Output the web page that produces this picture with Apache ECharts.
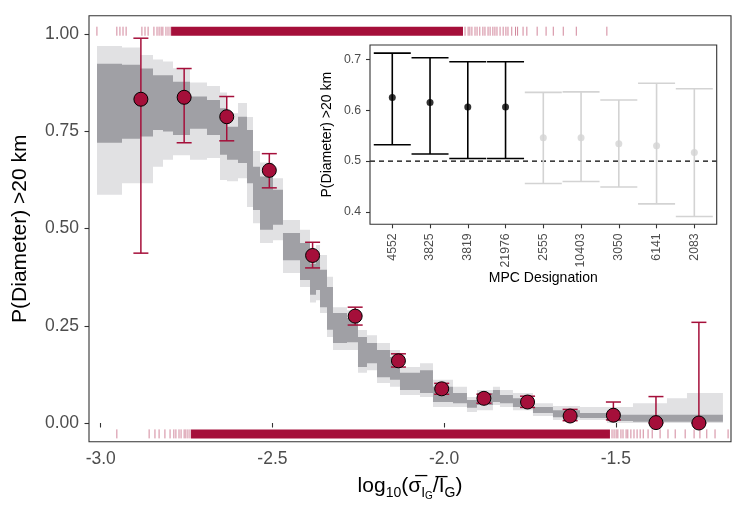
<!DOCTYPE html>
<html><head><meta charset="utf-8">
<script src="https://cdn.jsdelivr.net/npm/echarts@6/dist/echarts.min.js"></script>
<style>html,body{margin:0;padding:0;background:#fff}#c{width:747px;height:516px}</style>
</head><body><div id="c"></div>
<script>
// ---------- main panel data ----------
const xTicks = [-3.0, -2.5, -2.0, -1.5];
const yTicks = [0, 0.25, 0.5, 0.75, 1.0];

// stepped ribbons (value holds from bandX[i] to bandX[i+1])
const bandX   = [-3.0108,-2.9380,-2.8856,-2.8477,-2.8186,-2.7895,-2.7400,-2.6905,-2.6526,-2.6322,-2.6002,-2.5740,-2.5565,-2.5361,-2.4983,-2.4692,-2.4196,-2.3905,-2.3730,-2.3614,-2.3410,-2.3236,-2.2828,-2.2508,-2.2246,-2.1954,-2.1576,-2.1285,-2.0702,-2.0324,-1.9741,-1.9334,-1.9043,-1.8577,-1.8373,-1.7995,-1.7412,-1.6830,-1.6044,-1.5257,-1.4500,-1.3510,-1.2928,-1.1880];
const outerLo = [0.587,0.617,0.617,0.659,0.677,0.689,0.677,0.682,0.625,0.622,0.630,0.556,0.514,0.463,0.470,0.386,0.350,0.310,0.316,0.283,0.221,0.188,0.188,0.129,0.136,0.103,0.093,0.072,0.067,0.041,0.041,0.028,0.033,0.046,0.041,0.033,0.018,0.008,0.008,0.000,0.000,0.000,0.000,0.000];
const innerLo = [0.721,0.731,0.737,0.754,0.750,0.741,0.757,0.741,0.690,0.677,0.669,0.617,0.548,0.497,0.510,0.419,0.368,0.330,0.342,0.298,0.240,0.206,0.208,0.144,0.154,0.118,0.111,0.085,0.077,0.054,0.051,0.039,0.046,0.054,0.051,0.041,0.026,0.015,0.013,0.005,0.003,0.003,0.003,0.003];
const innerHi = [0.924,0.922,0.912,0.895,0.895,0.878,0.840,0.831,0.810,0.762,0.788,0.754,0.659,0.634,0.600,0.489,0.463,0.410,0.427,0.394,0.350,0.283,0.270,0.221,0.206,0.188,0.170,0.129,0.136,0.093,0.077,0.059,0.077,0.085,0.072,0.064,0.041,0.033,0.026,0.021,0.021,0.021,0.021,0.021];
const outerHi = [0.970,0.966,0.947,0.935,0.930,0.913,0.876,0.867,0.850,0.797,0.823,0.787,0.700,0.670,0.630,0.522,0.497,0.445,0.458,0.432,0.376,0.298,0.290,0.239,0.226,0.206,0.188,0.144,0.154,0.111,0.093,0.067,0.085,0.093,0.085,0.077,0.051,0.044,0.041,0.041,0.051,0.064,0.077,0.077];

// binned proportions with intervals
const binX  = [-2.883,-2.757,-2.633,-2.509,-2.383,-2.259,-2.133,-2.007,-1.884,-1.757,-1.633,-1.507,-1.383,-1.258];
const binP  = [0.833,0.838,0.788,0.650,0.431,0.275,0.160,0.088,0.0635,0.054,0.018,0.020,0.001,0.000];
const binLo = [0.437,0.721,0.726,0.605,0.399,0.252,0.144,0.074,0.051,0.040,0.006,0.008,0.000,0.000];
const binHi = [0.990,0.912,0.840,0.693,0.465,0.298,0.178,0.102,0.074,0.069,0.035,0.054,0.068,0.259];

// rug of individual observations (top: >20 km, bottom: <=20 km)
const rugTopLevel = 1.008;
const rugBottomLevel = -0.028;
const rugTopX = [-3.011,-2.953,-2.944,-2.935,-2.926,-2.880,-2.871,-2.862,-2.845,-2.836,-2.830,-2.824,-2.819,-2.810,-2.804,-2.798,
  -1.939,-1.930,-1.925,-1.919,-1.910,-1.904,-1.896,-1.887,-1.881,-1.872,-1.866,-1.858,-1.852,-1.846,-1.837,-1.828,-1.820,-1.814,-1.803,-1.792,-1.786,
  -1.770,-1.759,-1.729,-1.703,-1.682,-1.653,-1.615,-1.526];
const rugTopDense = [[-2.795,-1.945]];
const rugBotX = [-2.953,-2.859,-2.842,-2.830,-2.813,-2.798,-2.787,-2.781,-2.772,-2.766,-2.757,-2.752,-2.746,-2.740,
  -1.511,-1.505,-1.499,-1.494,-1.485,-1.479,-1.470,-1.465,-1.456,-1.447,-1.438,-1.429,
  -1.420,-1.406,-1.394,-1.371,-1.348,-1.327,-1.298,-1.272,-1.255,-1.235,-1.211,-1.173];
const rugBotDense = [[-2.737,-1.517]];

// ---------- inset data ----------
const inCats = ['4552','3825','3819','21976','2555','10403','3050','6141','2083'];
const inP  = [0.625,0.615,0.606,0.606,0.546,0.546,0.534,0.530,0.517];
const inLo = [0.532,0.514,0.505,0.505,0.456,0.460,0.449,0.416,0.391];
const inHi = [0.712,0.703,0.695,0.695,0.635,0.636,0.620,0.653,0.642];
const inRef = 0.5;
const inYTicks = [0.4, 0.5, 0.6, 0.7];

// ---------- styling ----------
const FONT = "'Liberation Sans', Arial, sans-serif";
const CRIMSON = '#A50F3A';
const LIGHT = '#E1E1E3';
const DARK = '#A0A0A5';
const TXT = '#4D4D4D';

function bandRender(lo, hi, fill) {
  return function (params, api) {
    const n = bandX.length;
    const pts = [];
    for (let i = 0; i < n - 1; i++) {
      pts.push(api.coord([bandX[i], hi[i]]));
      pts.push(api.coord([bandX[i + 1], hi[i]]));
    }
    for (let i = n - 2; i >= 0; i--) {
      pts.push(api.coord([bandX[i + 1], lo[i]]));
      pts.push(api.coord([bandX[i], lo[i]]));
    }
    return { type: 'polygon', shape: { points: pts }, style: { fill: fill, stroke: null } };
  };
}

function rugTicks(params, api) {
  const p = api.coord([api.value(0), api.value(1)]);
  return { type: 'line', shape: { x1: p[0], y1: p[1] - 4.5, x2: p[0], y2: p[1] + 4.5 },
    style: { stroke: 'rgba(165,15,58,0.5)', lineWidth: 1 } };
}
function rugSpan(params, api) {
  const a = api.coord([api.value(0), api.value(2)]);
  const b = api.coord([api.value(1), api.value(2)]);
  return { type: 'rect', shape: { x: a[0], y: a[1] - 4.5, width: b[0] - a[0], height: 9 },
    style: { fill: CRIMSON } };
}
function errBar(color, half, lw) {
  return function (params, api) {
    const x = api.value(0);
    const lo = api.coord([x, api.value(1)]);
    const hi = api.coord([x, api.value(2)]);
    return { type: 'group', children: [
      { type: 'line', shape: { x1: lo[0], y1: lo[1], x2: hi[0], y2: hi[1] }, style: { stroke: color, lineWidth: lw } },
      { type: 'line', shape: { x1: lo[0] - half, y1: lo[1], x2: lo[0] + half, y2: lo[1] }, style: { stroke: color, lineWidth: lw } },
      { type: 'line', shape: { x1: hi[0] - half, y1: hi[1], x2: hi[0] + half, y2: hi[1] }, style: { stroke: color, lineWidth: lw } }
    ]};
  };
}
function inErr(params, api) {
  const i = api.value(0);
  const loV = api.value(1);
  const color = loV > inRef ? '#000000' : '#D3D3D3';
  const lo = api.coord([i, loV]);
  const hi = api.coord([i, api.value(2)]);
  const half = api.size([1, 0])[0] * 0.49;
  return { type: 'group', children: [
    { type: 'line', shape: { x1: lo[0], y1: lo[1], x2: hi[0], y2: hi[1] }, style: { stroke: color, lineWidth: 1.6 } },
    { type: 'line', shape: { x1: lo[0] - half, y1: lo[1], x2: lo[0] + half, y2: lo[1] }, style: { stroke: color, lineWidth: 1.6 } },
    { type: 'line', shape: { x1: hi[0] - half, y1: hi[1], x2: hi[0] + half, y2: hi[1] }, style: { stroke: color, lineWidth: 1.6 } }
  ]};
}
function inRefLine(params, api) {
  const cs = params.coordSys;
  const y = api.coord([0, inRef])[1];
  return { type: 'line', shape: { x1: cs.x - 3.4, y1: y, x2: cs.x + cs.width + 3.5, y2: y },
    style: { stroke: '#000', lineWidth: 1.3, lineDash: [5, 4] } };
}

const chart = echarts.init(document.getElementById('c'), null, { renderer: 'canvas', width: 747, height: 516 });

const option = {
  animation: false,
  textStyle: { fontFamily: FONT },
  grid: [
    { left: 89, top: 15.7, width: 642, height: 426, show: true, borderColor: '#333', borderWidth: 1.1, backgroundColor: '#fff', containLabel: false },
    { left: 373.4, top: 45, width: 339.8, height: 179.3, show: false, containLabel: false }
  ],
  graphic: [
    { type: 'rect', shape: { x: 370, y: 45, width: 346.7, height: 179.3 }, style: { fill: 'none', stroke: '#333', lineWidth: 1.1 }, z: 10 }
  ],
  xAxis: [
    { type: 'value', gridIndex: 0, min: -3.0341, max: -1.1645,
      axisLine: { show: false }, splitLine: { show: false },
      axisTick: { show: true, length: 4.5, lineStyle: { color: '#333', width: 1.1 }, customValues: xTicks },
      axisLabel: { customValues: xTicks, formatter: v => v.toFixed(1), color: TXT, fontSize: 17.5, margin: 8, fontFamily: FONT },
      name: '{n|log}{s|10}{n|(σ\u0305}{s|I}{ss|G}{n|/I\u0305}{s|G}{n|)}',
      nameLocation: 'middle', nameGap: 30,
      nameTextStyle: { rich: {
        n: { fontSize: 21, color: '#000', fontFamily: FONT },
        s: { fontSize: 14, color: '#000', fontFamily: FONT, padding: [12, 0, 0, 0] },
        ss: { fontSize: 10, color: '#000', fontFamily: FONT, padding: [20, 0, 0, 0] }
      } }
    },
    { type: 'category', gridIndex: 1, data: inCats, boundaryGap: true,
      axisLine: { show: false },
      axisTick: { show: true, alignWithLabel: true, length: 4, lineStyle: { color: '#333', width: 1.1 } },
      axisLabel: { rotate: 90, color: TXT, fontSize: 12.3, margin: 9, fontFamily: FONT },
      name: 'MPC Designation', nameLocation: 'middle', nameGap: 46,
      nameTextStyle: { fontSize: 14, color: '#000', fontFamily: FONT }
    }
  ],
  yAxis: [
    { type: 'value', gridIndex: 0, min: -0.0481, max: 1.0479,
      axisLine: { show: false }, splitLine: { show: false },
      axisTick: { show: true, length: 4.5, lineStyle: { color: '#333', width: 1.1 }, customValues: yTicks },
      axisLabel: { customValues: yTicks, formatter: v => v.toFixed(2), color: TXT, fontSize: 17.5, margin: 10, fontFamily: FONT },
      name: 'P(Diameter) >20 km', nameLocation: 'middle', nameGap: 58,
      nameTextStyle: { fontSize: 21, color: '#000', fontFamily: FONT }
    },
    { type: 'value', gridIndex: 1, min: 0.3758, max: 0.728, offset: 3.4,
      axisLine: { show: false }, splitLine: { show: false },
      axisTick: { show: true, length: 4, lineStyle: { color: '#333', width: 1.1 }, customValues: inYTicks },
      axisLabel: { customValues: inYTicks, formatter: v => v.toFixed(1), color: TXT, fontSize: 12.3, margin: 9, fontFamily: FONT },
      name: 'P(Diameter) >20 km', nameLocation: 'middle', nameGap: 36,
      nameTextStyle: { fontSize: 14, color: '#000', fontFamily: FONT }
    }
  ],
  series: [
    { type: 'custom', xAxisIndex: 0, yAxisIndex: 0, data: [[bandX[0], outerLo[0]]], renderItem: bandRender(outerLo, outerHi, LIGHT), z: 1, silent: true },
    { type: 'custom', xAxisIndex: 0, yAxisIndex: 0, data: [[bandX[0], innerLo[0]]], renderItem: bandRender(innerLo, innerHi, DARK), z: 2, silent: true },
    { type: 'custom', xAxisIndex: 0, yAxisIndex: 0, data: rugTopDense.map(d => [d[0], d[1], rugTopLevel]), encode: { x: [0, 1], y: 2 }, renderItem: rugSpan, z: 3, silent: true },
    { type: 'custom', xAxisIndex: 0, yAxisIndex: 0, data: rugBotDense.map(d => [d[0], d[1], rugBottomLevel]), encode: { x: [0, 1], y: 2 }, renderItem: rugSpan, z: 3, silent: true },
    { type: 'custom', xAxisIndex: 0, yAxisIndex: 0, data: rugTopX.map(x => [x, rugTopLevel]), renderItem: rugTicks, z: 3, silent: true },
    { type: 'custom', xAxisIndex: 0, yAxisIndex: 0, data: rugBotX.map(x => [x, rugBottomLevel]), renderItem: rugTicks, z: 3, silent: true },
    { type: 'custom', xAxisIndex: 0, yAxisIndex: 0, data: binX.map((x, i) => [x, binLo[i], binHi[i]]), encode: { x: 0, y: [1, 2] }, renderItem: errBar(CRIMSON, 7.5, 1.5), z: 4, silent: true },
    { type: 'scatter', xAxisIndex: 0, yAxisIndex: 0, data: binX.map((x, i) => [x, binP[i]]), symbol: 'circle', symbolSize: 14,
      itemStyle: { color: CRIMSON, borderColor: '#000', borderWidth: 1, opacity: 1 }, z: 5, silent: true },
    // inset
    { type: 'custom', xAxisIndex: 1, yAxisIndex: 1, data: [[0, inRef]], renderItem: inRefLine, z: 4, silent: true },
    { type: 'custom', xAxisIndex: 1, yAxisIndex: 1, data: inCats.map((c, i) => [i, inLo[i], inHi[i]]), encode: { x: 0, y: [1, 2] }, renderItem: inErr, z: 5, silent: true },
    { type: 'scatter', xAxisIndex: 1, yAxisIndex: 1, data: inCats.map((c, i) => ({ value: [i, inP[i]], itemStyle: { color: inLo[i] > inRef ? '#000000' : '#D3D3D3' } })),
      symbol: 'circle', symbolSize: 7, z: 6, silent: true }
  ]
};
chart.setOption(option);
</script>
</body></html>
